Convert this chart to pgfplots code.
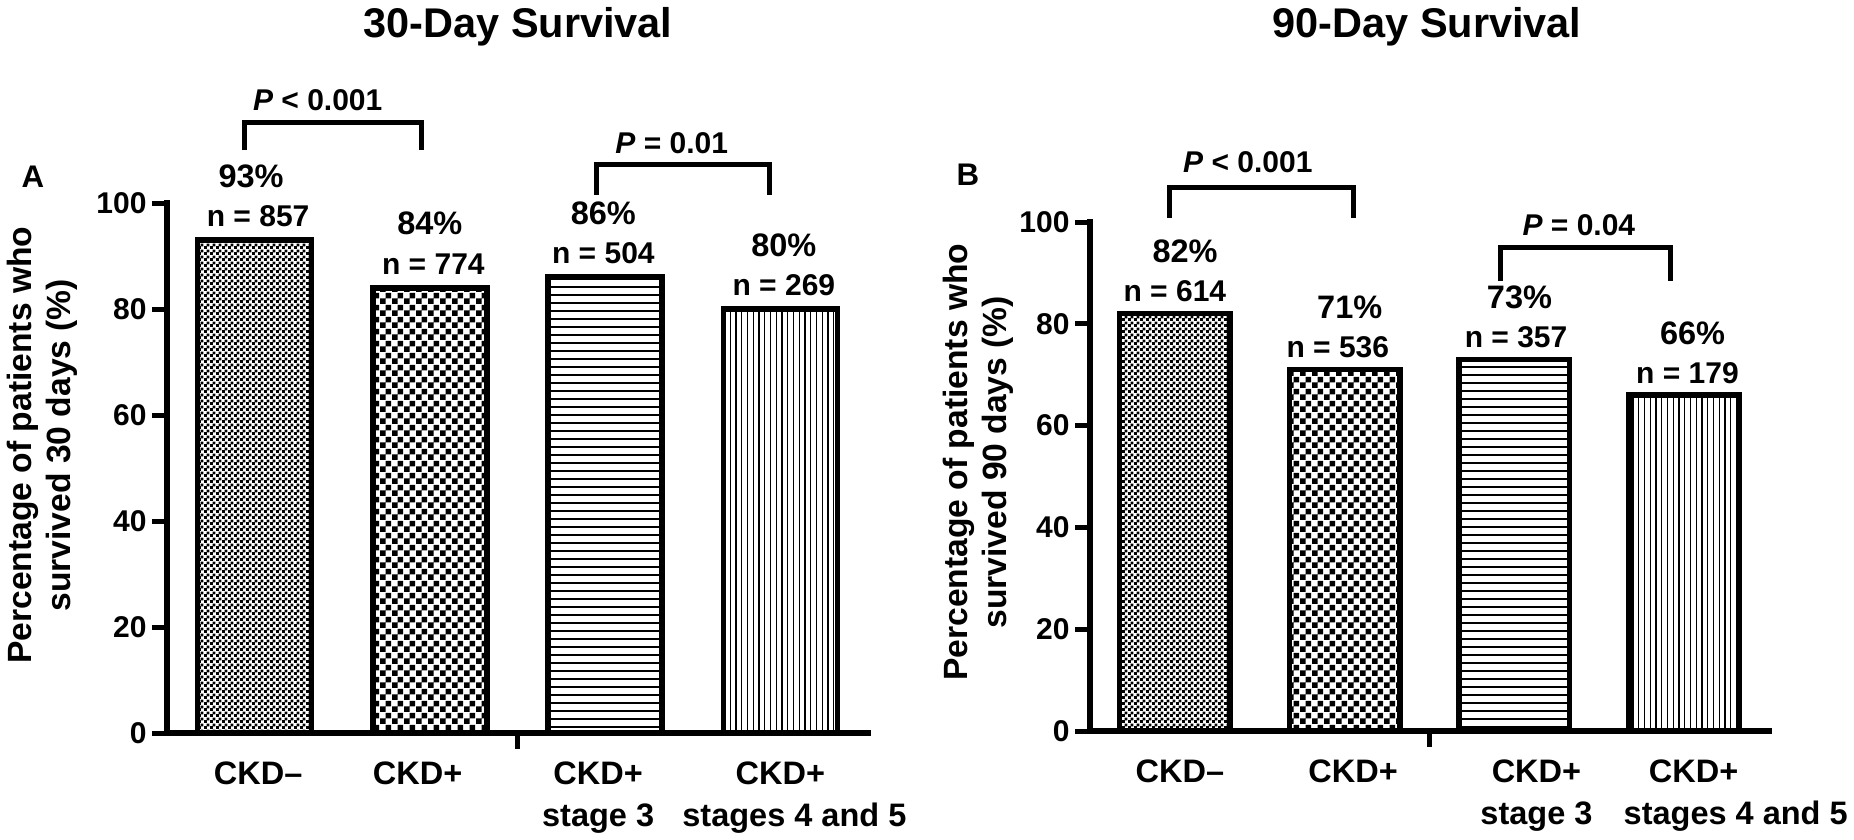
\documentclass[border=0pt]{standalone}
\usepackage{fontspec}
\setmainfont{Liberation Sans}
\usepackage{pgfplots}
\pgfplotsset{compat=1.18}
\usetikzlibrary{patterns,patterns.meta}

\pgfdeclarepatternformonly{finecheck}{\pgfpointorigin}{\pgfpoint{2.2pt}{2.2pt}}{\pgfpoint{2.2pt}{2.2pt}}{%
  \pgfpathrectangle{\pgfpointorigin}{\pgfpoint{1.25pt}{1.25pt}}%
  \pgfpathrectangle{\pgfpoint{1.1pt}{1.1pt}}{\pgfpoint{1.25pt}{1.25pt}}%
  \pgfusepath{fill}}
\pgfdeclarepatternformonly{coarsecheck}{\pgfpointorigin}{\pgfpoint{4.6pt}{4.6pt}}{\pgfpoint{4.6pt}{4.6pt}}{%
  \pgfpathrectangle{\pgfpointorigin}{\pgfpoint{2.3pt}{2.3pt}}%
  \pgfpathrectangle{\pgfpoint{2.3pt}{2.3pt}}{\pgfpoint{2.3pt}{2.3pt}}%
  \pgfusepath{fill}}

\newcommand{\fs}[2]{\bfseries\fontsize{#1}{#2}\selectfont}

\pgfplotsset{
  panel/.style={
    scale only axis, enlargelimits=false, clip=false,
    xmin=-0.5, xmax=3.5, ymin=0, ymax=100,
    axis x line*=bottom, axis y line*=left,
    axis line style={line width=2.4pt, line cap=rect, black},
    ytick={0,20,40,60,80,100},
    tick align=outside, major tick length=6pt,
    ytick style={line width=2pt, black},
    xtick style={draw=none},
    /pgf/number format/assume math mode=true,
    yticklabel style={font=\fs{12}{14}, inner sep=0pt, xshift=-2pt},
    xticklabel style={font=\fs{13}{16.8}, align=center, anchor=north, inner sep=0pt, yshift=-5.4pt},
    ybar, bar width=0.65, bar shift=0pt,
    every axis y label/.style={rotate=90, anchor=center, align=center, font=\fs{13.45}{15.6}},
  },
}
\tikzset{
  bars/.style={draw=black, line width=2.2pt, line join=miter},
  pct/.style={font=\fs{13}{15}, inner sep=0pt, anchor=center},
  nn/.style={font=\fs{12}{14}, inner sep=0pt, anchor=center},
  pv/.style={font=\fs{12}{14}, inner sep=0pt, anchor=center},
  brk/.style={line width=2pt, black, line join=miter},
}

\begin{document}
\begin{tikzpicture}
\useasboundingbox (0,0) rectangle (741.6pt,335.6pt);

\node[anchor=base, font=\fs{16.6}{20}] at (207.2pt,320.4pt) {30-Day Survival};
\node[anchor=base, font=\fs{16.6}{20}] at (570.8pt,320.4pt) {90-Day Survival};
\node[font=\fs{12.5}{15}] at (13.2pt,264.8pt) {A};
\node[font=\fs{12.5}{15}] at (387.2pt,265.6pt) {B};

% ---------------- Panel A ----------------
\begin{axis}[panel,
  at={(66.8pt,42.4pt)}, anchor=south west,
  width=280.4pt, height=212pt,
  xtick={0.02,0.93,1.96,3.04},
  xticklabels={{CKD–},{CKD+},{CKD+\\stage 3},{CKD+\hspace*{5.6pt}\\\hspace*{5.6pt}stages 4 and 5}},
  ylabel={Percentage of patients who\\survived 30 days (\%)},
  ylabel style={at={(axis description cs:-0.1776,0.543)}},
]
\addplot[bars, pattern=finecheck] coordinates {(0,93)};
\addplot[bars, pattern=coarsecheck] coordinates {(1,84)};
\addplot[bars, pattern={Lines[angle=0,distance=3.2pt,line width=0.55pt]}] coordinates {(2,86)};
\addplot[bars, pattern={Lines[angle=90,distance=2.3pt,line width=0.45pt]}] coordinates {(3,80)};

\draw[line width=2pt] (axis cs:1.5,0) -- ([yshift=-6.5pt]axis cs:1.5,0);

\node[pct, yshift=25.6pt] at (axis cs:-0.02,93) {93\%};
\node[nn,  yshift=9.6pt]  at (axis cs:0.02,93) {n = 857};
\node[pct, yshift=25.6pt] at (axis cs:1.0,84) {84\%};
\node[nn,  yshift=9.6pt]  at (axis cs:1.02,84) {n = 774};
\node[pct, yshift=25.6pt] at (axis cs:1.99,86) {86\%};
\node[nn,  yshift=9.6pt]  at (axis cs:1.99,86) {n = 504};
\node[pct, yshift=25.6pt] at (axis cs:3.02,80) {80\%};
\node[nn,  yshift=9.6pt]  at (axis cs:3.02,80) {n = 269};

\draw[brk] (axis cs:-0.06,110) |- (axis cs:0.95,115.1) -- (axis cs:0.95,110);
\node[pv] at (axis cs:0.36,119.4) {\textit{P} < 0.001};
\draw[brk] (axis cs:1.95,101.5) |- (axis cs:2.94,107.2) -- (axis cs:2.94,101.5);
\node[pv] at (axis cs:2.38,111.3) {\textit{P} = 0.01};
\end{axis}

% ---------------- Panel B ----------------
\begin{axis}[panel,
  at={(436pt,43.2pt)}, anchor=south west,
  width=271.6pt, height=203.6pt,
  xtick={0.03,1.05,2.13,3.18},
  xticklabels={{CKD–},{CKD+},{CKD+\\stage 3},{CKD+\hspace*{16.8pt}\\\hspace*{16.8pt}stages 4 and 5}},
  ylabel={Percentage of patients who\\survived 90 days (\%)},
  ylabel style={at={(axis description cs:-0.165,0.528)}},
]
\addplot[bars, pattern=finecheck] coordinates {(0,82)};
\addplot[bars, pattern=coarsecheck] coordinates {(1,71)};
\addplot[bars, pattern={Lines[angle=0,distance=3.2pt,line width=0.55pt]}] coordinates {(2,73)};
\addplot[bars, pattern={Lines[angle=90,distance=2.3pt,line width=0.45pt]}] coordinates {(3,66)};

\draw[line width=2pt] (axis cs:1.5,0) -- ([yshift=-6.5pt]axis cs:1.5,0);

\node[pct, yshift=24.8pt] at (axis cs:0.06,82) {82\%};
\node[nn,  yshift=8.8pt]  at (axis cs:0.0,82) {n = 614};
\node[pct, yshift=24.8pt] at (axis cs:1.03,71) {71\%};
\node[nn,  yshift=8.8pt]  at (axis cs:0.96,71) {n = 536};
\node[pct, yshift=24.8pt] at (axis cs:2.03,73) {73\%};
\node[nn,  yshift=8.8pt]  at (axis cs:2.01,73) {n = 357};
\node[pct, yshift=24.8pt] at (axis cs:3.05,66) {66\%};
\node[nn,  yshift=8.8pt]  at (axis cs:3.02,66) {n = 179};

\draw[brk] (axis cs:-0.03,100.8) |- (axis cs:1.05,106.7) -- (axis cs:1.05,100.8);
\node[pv] at (axis cs:0.43,111.8) {\textit{P} < 0.001};
\draw[brk] (axis cs:1.92,88.4) |- (axis cs:2.92,94.9) -- (axis cs:2.92,88.4);
\node[pv] at (axis cs:2.38,99.4) {\textit{P} = 0.04};
\end{axis}
\end{tikzpicture}
\end{document}
